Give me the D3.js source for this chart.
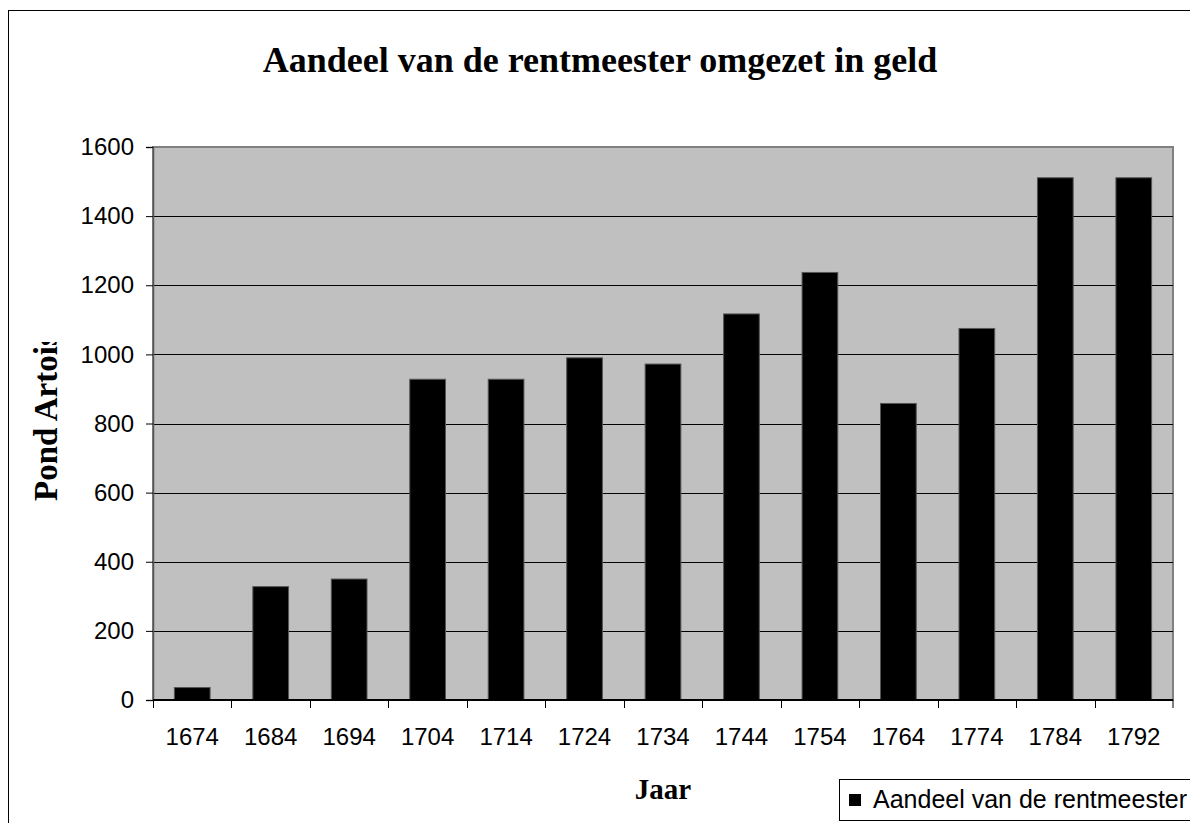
<!DOCTYPE html>
<html>
<head>
<meta charset="utf-8">
<script src="https://cdn.jsdelivr.net/npm/d3@7"></script>
<style>
  body { margin: 0; background: #fff; }
  svg { display: block; }
</style>
</head>
<body>
<script>
var width = 1190,
  height = 823;

var years = ["1674", "1684", "1694", "1704", "1714", "1724", "1734", "1744", "1754", "1764", "1774", "1784", "1792"];
var values = [36, 328, 350, 928, 928, 990, 972, 1117, 1237, 858, 1075, 1511, 1511];
var yTicks = [0, 200, 400, 600, 800, 1000, 1200, 1400, 1600];

var plot = { left: 153, right: 1173, top: 147, bottom: 700 };

var x = d3.scaleBand()
  .domain(years)
  .range([plot.left, plot.right])
  .paddingInner(0.545)
  .paddingOuter(0.2725);

var xTickScale = d3.scaleBand()
  .domain(years)
  .range([plot.left, plot.right]);

var y = d3.scaleLinear()
  .domain([0, 1600])
  .range([plot.bottom, plot.top]);

var svg = d3.select("body").append("svg")
  .attr("width", width)
  .attr("height", height);

// outer chart border (runs off the right and bottom edge)
svg.append("rect")
  .attr("x", 8.5)
  .attr("y", 10.5)
  .attr("width", 1200)
  .attr("height", 830)
  .attr("fill", "#fff")
  .attr("stroke", "#000")
  .attr("stroke-width", 1);

svg.append("text")
  .attr("x", 600)
  .attr("y", 72)
  .attr("text-anchor", "middle")
  .attr("font-family", "'Liberation Serif', 'Times New Roman', serif")
  .attr("font-weight", "bold")
  .attr("font-size", "36px")
  .text("Aandeel van de rentmeester omgezet in geld");

// plot background
svg.append("rect")
  .attr("x", plot.left)
  .attr("y", plot.top)
  .attr("width", plot.right - plot.left)
  .attr("height", plot.bottom - plot.top)
  .attr("fill", "#c0c0c0")
  .attr("stroke", "#808080")
  .attr("stroke-width", 2);

svg.append("g")
  .selectAll("line")
  .data(yTicks.filter(function(d) { return d > 0 && d < 1600; }))
  .enter().append("line")
    .attr("x1", plot.left)
    .attr("x2", plot.right)
    .attr("y1", function(d) { return Math.round(y(d)) + 0.5; })
    .attr("y2", function(d) { return Math.round(y(d)) + 0.5; })
    .attr("stroke", "#000")
    .attr("stroke-width", 1);

svg.append("g")
  .selectAll("rect")
  .data(values)
  .enter().append("rect")
    .attr("x", function(d, i) { return x(years[i]); })
    .attr("y", function(d) { return y(d); })
    .attr("width", x.bandwidth())
    .attr("height", function(d) { return y(0) - y(d); })
    .attr("fill", "#000")
    .attr("stroke", "#555")
    .attr("stroke-width", 1);

// y axis
var yAxis = d3.axisLeft(y)
  .tickValues(yTicks)
  .tickSize(7)
  .tickPadding(12)
  .tickFormat(d3.format("d"));

var yAxisG = svg.append("g")
  .attr("transform", "translate(" + plot.left + ",0)")
  .call(yAxis);

yAxisG.select(".domain").attr("stroke", "#555").attr("stroke-width", 1.5);
yAxisG.selectAll(".tick line").attr("stroke", "#000");
yAxisG.selectAll("text")
  .attr("font-family", "'Liberation Sans', Arial, sans-serif")
  .attr("font-size", "24px")
  .attr("fill", "#000");

// x axis: ticks on category boundaries, labels centred
var xAxisG = svg.append("g")
  .attr("transform", "translate(0," + plot.bottom + ")");

xAxisG.append("line")
  .attr("x1", plot.left)
  .attr("x2", plot.right)
  .attr("stroke", "#000")
  .attr("stroke-width", 2);

xAxisG.selectAll("line.tick")
  .data(years.concat(["end"]))
  .enter().append("line")
    .attr("class", "tick")
    .attr("x1", function(d) { return d === "end" ? plot.right : Math.round(xTickScale(d)) + 0.5; })
    .attr("x2", function(d) { return d === "end" ? plot.right : Math.round(xTickScale(d)) + 0.5; })
    .attr("y1", 0)
    .attr("y2", 8)
    .attr("stroke", "#000");

xAxisG.selectAll("text")
  .data(years)
  .enter().append("text")
    .attr("x", function(d) { return xTickScale(d) + xTickScale.bandwidth() / 2; })
    .attr("y", 45)
    .attr("text-anchor", "middle")
    .attr("font-family", "'Liberation Sans', Arial, sans-serif")
    .attr("font-size", "24px")
    .text(function(d) { return d; });

// axis titles
svg.append("text")
  .attr("x", (plot.left + plot.right) / 2)
  .attr("y", 799)
  .attr("text-anchor", "middle")
  .attr("font-family", "'Liberation Serif', 'Times New Roman', serif")
  .attr("font-weight", "bold")
  .attr("font-size", "29px")
  .text("Jaar");

svg.append("defs").append("clipPath")
  .attr("id", "ylabel-clip")
  .append("rect")
    .attr("x", 10)
    .attr("y", 342)
    .attr("width", 80)
    .attr("height", 200);

svg.append("g")
  .attr("clip-path", "url(#ylabel-clip)")
  .append("text")
    .attr("transform", "translate(57,501) rotate(-90)")
    .attr("text-anchor", "start")
    .attr("font-family", "'Liberation Serif', 'Times New Roman', serif")
    .attr("font-weight", "bold")
    .attr("font-size", "33px")
    .text("Pond Artois");

// legend
var legend = svg.append("g")
  .attr("transform", "translate(839,779)");

legend.append("rect")
  .attr("x", 0.5)
  .attr("y", 0.5)
  .attr("width", 400)
  .attr("height", 41)
  .attr("fill", "#fff")
  .attr("stroke", "#000");

legend.append("rect")
  .attr("x", 10)
  .attr("y", 15)
  .attr("width", 12)
  .attr("height", 12)
  .attr("fill", "#000");

legend.append("text")
  .attr("x", 34)
  .attr("y", 29)
  .attr("font-family", "'Liberation Sans', Arial, sans-serif")
  .attr("font-size", "25px")
  .text("Aandeel van de rentmeester");
</script>
</body>
</html>
